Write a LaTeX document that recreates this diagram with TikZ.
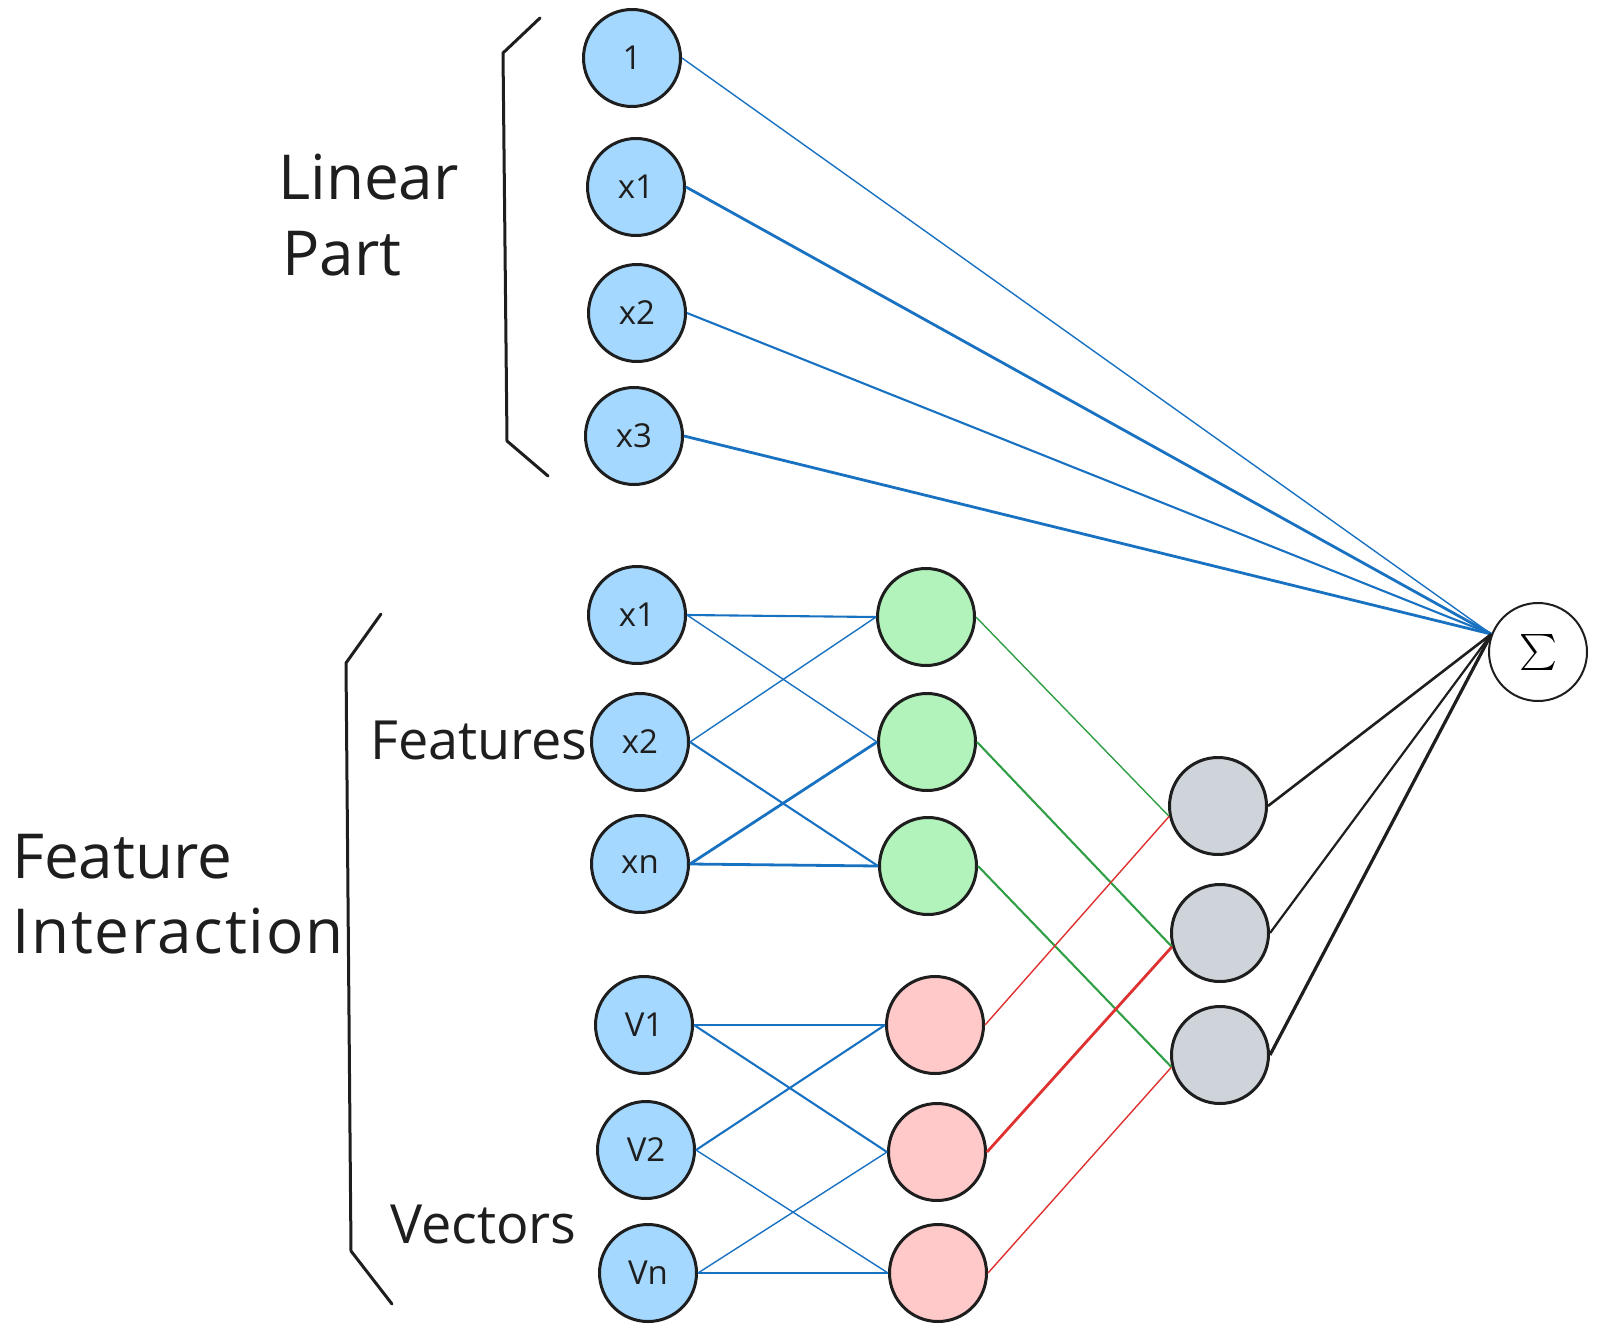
\documentclass[tikz,border=0pt]{standalone}
\usepackage{fontspec}
\setmainfont{Open Sans}
\definecolor{ink}{HTML}{1E1E1E}
\definecolor{bfill}{HTML}{A5D8FF}
\definecolor{gfill}{HTML}{B2F2BB}
\definecolor{pfill}{HTML}{FFC9C9}
\definecolor{grfill}{HTML}{CED4DA}
\definecolor{bline}{HTML}{1971C2}
\definecolor{gline}{HTML}{2F9E44}
\definecolor{rline}{HTML}{E03131}
\begin{document}
\begin{tikzpicture}[x=1pt,y=-1pt,
  ball/.style={circle, draw=ink, line width=3pt, minimum size=97pt, inner sep=0pt, text=ink,
    font=\fontsize{33}{36}\selectfont},
  bnode/.style={ball, fill=bfill},
  gnode/.style={ball, fill=gfill},
  pnode/.style={ball, fill=pfill},
  grnode/.style={ball, fill=grfill},
  lbl/.style={anchor=base west, inner sep=0pt, text=ink},
  big/.style={font=\fontsize{62}{70}\selectfont},
  mid/.style={font=\fontsize{54}{60}\selectfont},
  brk/.style={draw=ink, line width=3pt, line join=round, line cap=round},
  bl/.style={draw=bline},
  gl/.style={draw=gline},
  rl/.style={draw=rline},
  kl/.style={draw=ink},
  thin/.style={line width=1.4pt},
  med/.style={line width=2.1pt},
  thick/.style={line width=2.8pt}
]
\useasboundingbox (0,0) rectangle (1597,1332);

% linear part nodes
\node[bnode] (n1) at (632,58) {1};
\node[bnode] (lx1) at (636,187) {x1};
\node[bnode] (lx2) at (637,313) {x2};
\node[bnode] (lx3) at (634,436) {x3};

% features
\node[bnode] (fx1) at (637,615) {x1};
\node[bnode] (fx2) at (640,742) {x2};
\node[bnode] (fxn) at (640,864) {xn};
% vectors
\node[bnode] (v1) at (644,1025) {V1};
\node[bnode] (v2) at (646,1150) {V2};
\node[bnode] (vn) at (648,1273) {Vn};

% green
\node[gnode] (g1) at (926,617) {};
\node[gnode] (g2) at (927,742) {};
\node[gnode] (g3) at (928,866) {};
% pink
\node[pnode] (p1) at (935,1025) {};
\node[pnode] (p2) at (937,1152) {};
\node[pnode] (p3) at (938,1273) {};
% gray
\node[grnode] (k1) at (1218,806) {};
\node[grnode] (k2) at (1220,933) {};
\node[grnode] (k3) at (1220,1055) {};

% sigma
\node[circle, draw=ink, line width=2pt, minimum size=98pt, inner sep=0pt, fill=white] (sig) at (1538,652) {\scalebox{3.6}{$\sum$}};
\coordinate (sin) at (sig.159);

% labels
\node[lbl, big] (tlin) at (278,200) {Linear};
\node[lbl, big] (tpart) at (282,275) {Part};
\node[lbl, mid] (tfeat) at (370,759) {Features};
\node[lbl, mid] (tvec) at (390,1243) {Vectors};
\node[lbl, big] (tfi1) at (12,878) {Feature};
\node[lbl, big] (tfi2) at (12,953) {\addfontfeature{LetterSpace=3}Interaction};

% brackets
\coordinate (b1a) at (540,18);
\coordinate (b1b) at (503,53);
\coordinate (b1c) at (507,441);
\coordinate (b1d) at (548,476);
\draw[brk] (b1a) -- (b1b) -- (b1c) -- (b1d);
\coordinate (b2a) at (381,614);
\coordinate (b2b) at (346,663);
\coordinate (b2c) at (351,1251);
\coordinate (b2d) at (392,1304);
\draw[brk] (b2a) -- (b2b) -- (b2c) -- (b2d);

% linear part connectors
\draw[bl, thin] (n1.east) -- (sin);
\draw[bl, thick] (lx1.east) -- (sin);
\draw[bl, med] (lx2.east) -- (sin);
\draw[bl, thick] (lx3.east) -- (sin);

% features to green
\draw[bl, med] (fx1.east) -- (g1.west);
\draw[bl, thin] (fx1.east) -- (g2.west);
\draw[bl, thin] (fx2.east) -- (g1.west);
\draw[bl, med] (fx2.east) -- (g3.west);
\draw[bl, thick] (fxn.east) -- (g2.west);
\draw[bl, thick] (fxn.east) -- (g3.west);

% vectors to pink
\draw[bl, thin] (v1.east) -- (p1.west);
\draw[bl, med] (v1.east) -- (p2.west);
\draw[bl, med] (v2.east) -- (p1.west);
\draw[bl, thin] (v2.east) -- (p3.west);
\draw[bl, thin] (vn.east) -- (p2.west);
\draw[bl, thick] (vn.east) -- (p3.west);

% green to gray
\draw[gl, thin] (g1.east) -- (k1.192);
\draw[gl, med] (g2.east) -- (k2.196);
\draw[gl, med] (g3.east) -- (k3.194);

% pink to gray
\draw[rl, thin] (p1.east) -- (k1.192);
\draw[rl, thick] (p2.east) -- (k2.196);
\draw[rl, thin] (p3.east) -- (k3.194);

% gray to sigma
\draw[kl, line width=2.6pt] (k1.east) -- (sin);
\draw[kl, line width=2.2pt] (k2.east) -- (sin);
\draw[kl, line width=3.2pt] (k3.east) -- (sin);
\end{tikzpicture}
\end{document}
